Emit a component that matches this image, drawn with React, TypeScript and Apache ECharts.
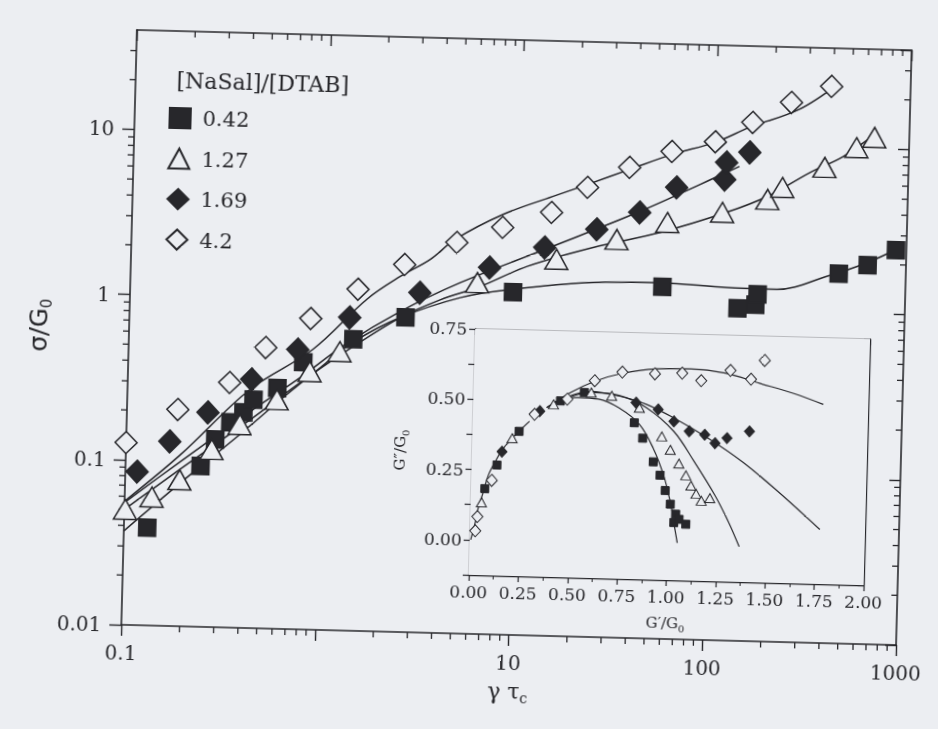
import React, { useEffect, useRef } from "react";
import * as echarts from "echarts";

const BG = "#eceef2";
const INK = "#27272b";
const SERIF = "'DejaVu Serif', 'Liberation Serif', serif";

const SERIES_NAMES = ["0.42", "1.27", "1.69", "4.2"];
const LEGEND_TITLE = "[NaSal]/[DTAB]";

const X_TICK_LABELS: Record<string, string> = { "-1": "0.1", "0": "", "1": "10", "2": "100", "3": "1000" };
const Y_TICK_LABELS: Record<string, string> = { "-2": "0.01", "-1": "0.1", "0": "1", "1": "10" };
const MINOR_STEPS = [2, 3, 4, 5, 6, 7, 8, 9];
const X_DECADES = [0.1, 1, 10, 100];
const Y_DECADES = [0.01, 0.1, 1];
const Y_TOP_MINOR = [20, 30];

// ---- main plot: measured points (gamma*tau_c, sigma/G0) ----
const PTS_042 = [[0.132, 0.039], [0.244, 0.094], [0.288, 0.137], [0.343, 0.175], [0.399, 0.202], [0.448, 0.242], [0.593, 0.287], [0.8, 0.415], [1.44, 0.582], [2.66, 0.805], [9.46, 1.19], [55.7, 1.35], [137, 1.03], [169, 1.09], [173, 1.26], [451, 1.73], [634, 1.97], [883, 2.45]];
const PTS_127 = [[0.101, 0.05], [0.138, 0.06], [0.191, 0.077], [0.277, 0.119], [0.384, 0.17], [0.592, 0.244], [0.867, 0.365], [1.23, 0.487], [6.17, 1.34], [15.7, 1.91], [31.9, 2.57], [58.0, 3.32], [111, 3.9], [189, 4.75], [225, 5.64], [369, 7.57], [536, 10.1], [661, 11.7]];
const PTS_169 = [[0.115, 0.085], [0.168, 0.131], [0.262, 0.199], [0.436, 0.32], [0.747, 0.494], [1.37, 0.787], [3.13, 1.14], [7.11, 1.66], [13.6, 2.24], [25.1, 2.94], [41.6, 3.78], [64.0, 5.43], [113, 6.17], [115, 7.83], [151, 9.08]];
const PTS_42 = [[0.1, 0.127], [0.183, 0.205], [0.336, 0.304], [0.51, 0.502], [0.863, 0.765], [1.5, 1.17], [2.59, 1.68], [4.78, 2.33], [8.2, 2.92], [14.6, 3.66], [22.2, 5.26], [36.4, 7.06], [59.9, 8.95], [100, 10.4], [155, 13.8], [244, 18.5], [391, 23.5]];

// ---- main plot: model curves ----
const FIT_042 = [[0.1, 0.037], [0.191, 0.073], [0.385, 0.148], [0.636, 0.251], [0.982, 0.387], [1.43, 0.556], [2.5, 0.801], [5.07, 1.08], [9.1, 1.23], [24.3, 1.4], [54.2, 1.43], [120, 1.37], [218, 1.36], [391, 1.66], [630, 2.04], [927, 2.55]];
const FIT_127 = [[0.1, 0.05], [0.191, 0.089], [0.435, 0.183], [0.778, 0.312], [1.32, 0.489], [2.5, 0.801], [3.99, 1.04], [6.4, 1.27], [11.1, 1.71], [24.2, 2.28], [53.3, 2.88], [117, 3.91], [188, 4.94], [311, 7.02], [458, 8.87], [661, 12.2]];
const FIT_169 = [[0.1, 0.055], [0.191, 0.099], [0.434, 0.205], [0.776, 0.335], [1.31, 0.54], [2.49, 0.871], [5.04, 1.33], [13.6, 2.18], [41.6, 3.83], [115, 6.81], [134, 7.45]];
const FIT_42 = [[0.1, 0.056], [0.191, 0.109], [0.428, 0.278], [0.893, 0.497], [1.67, 1.02], [2.47, 1.42], [3.51, 1.82], [4.69, 2.43], [8.22, 3.5], [14.7, 4.57], [22.2, 5.48], [36.5, 6.87], [60.1, 8.59], [99.3, 10.3], [150, 12.9], [269, 16.9], [420, 24.2]];

// ---- inset: Cole-Cole (G'/G0, G''/G0) ----
const IN_PTS_042 = [[0.07, 0.183], [0.128, 0.268], [0.236, 0.39], [0.441, 0.502], [0.561, 0.534], [0.818, 0.431], [0.862, 0.377], [0.919, 0.294], [0.955, 0.247], [0.983, 0.193], [1.011, 0.145], [1.031, 0.08], [1.039, 0.11], [1.057, 0.092], [1.092, 0.075]];
const IN_PTS_127 = [[0.055, 0.134], [0.202, 0.365], [0.407, 0.489], [0.596, 0.535], [0.7, 0.525], [0.842, 0.485], [0.959, 0.385], [1.004, 0.338], [1.049, 0.29], [1.086, 0.249], [1.113, 0.213], [1.14, 0.184], [1.167, 0.16], [1.21, 0.17]];
const IN_PTS_169 = [[0.152, 0.316], [0.338, 0.464], [0.824, 0.503], [0.937, 0.481], [1.018, 0.44], [1.097, 0.406], [1.176, 0.395], [1.229, 0.366], [1.289, 0.385], [1.402, 0.411]];
const IN_PTS_42 = [[0.027, 0.032], [0.036, 0.083], [0.104, 0.213], [0.312, 0.452], [0.476, 0.509], [0.612, 0.577], [0.751, 0.61], [0.916, 0.607], [1.054, 0.612], [1.151, 0.587], [1.298, 0.626], [1.403, 0.597], [1.47, 0.665]];

const IN_RISE = [[0.005, 0.0], [0.026, 0.062], [0.038, 0.11], [0.062, 0.17], [0.086, 0.231], [0.119, 0.28], [0.152, 0.322], [0.211, 0.372], [0.287, 0.427]];
const IN_FIT_042 = [[0.406, 0.495], [0.527, 0.516], [0.632, 0.512], [0.737, 0.483], [0.845, 0.425], [0.917, 0.342], [0.973, 0.247], [1.011, 0.151], [1.031, 0.08], [1.051, 0.008]];
const IN_FIT_127 = [[0.373, 0.477], [0.458, 0.508], [0.596, 0.535], [0.736, 0.527], [0.877, 0.486], [1.019, 0.404], [1.127, 0.298], [1.236, 0.18], [1.309, 0.085], [1.365, 0.0]];
const IN_FIT_169 = [[0.373, 0.477], [0.458, 0.512], [0.596, 0.539], [0.736, 0.525], [0.876, 0.498], [1.017, 0.452], [1.194, 0.383], [1.371, 0.302], [1.549, 0.203], [1.771, 0.069]];
const IN_FIT_42 = [[0.373, 0.477], [0.492, 0.533], [0.612, 0.575], [0.751, 0.606], [0.924, 0.625], [1.097, 0.628], [1.272, 0.616], [1.447, 0.583], [1.622, 0.55], [1.772, 0.514]];

const X_TICK_STEP_INSET = 0.25;
const Y_TICK_STEP_INSET = 0.125;

function logLabel(map: Record<string, string>) {
  return (v: number) => {
    const l = Math.log10(v);
    const e = Math.round(l);
    if (Math.abs(l - e) > 0.01) return "";
    return map[String(e)] ?? "";
  };
}

function buildOption() {
  const axisLine = { show: true, onZero: false, lineStyle: { color: INK, width: 1.6 } };
  const tickStyle = { color: INK, width: 1.4 };

  // minor tick marks for the log axes (drawn through the axes' own scales)
  const minorData: number[][] = [];
  X_DECADES.forEach((d) => MINOR_STEPS.forEach((k) => {
    minorData.push([k * d, 0.01, 0]);
    minorData.push([k * d, 40, 1]);
  }));
  const yMinor: number[] = [];
  Y_DECADES.forEach((d) => MINOR_STEPS.forEach((k) => yMinor.push(k * d)));
  Y_TOP_MINOR.forEach((v) => yMinor.push(v));
  yMinor.forEach((v) => {
    minorData.push([0.1, v, 2]);
    minorData.push([1000, v, 3]);
  });

  const line = (data: number[][], xi: number, yi: number, name: string, w = 1.5) => ({
    type: "line", name, data, xAxisIndex: xi, yAxisIndex: yi, smooth: 0.35, showSymbol: false,
    silent: true, z: 2, lineStyle: { color: INK, width: w }, clip: false,
  });
  const scat = (data: number[][], xi: number, yi: number, name: string, symbol: string, size: any, filled: boolean, bw = 1.5) => ({
    type: "scatter", name, data, xAxisIndex: xi, yAxisIndex: yi, symbol, symbolSize: size, clip: false, z: 4,
    itemStyle: { color: filled ? INK : BG, borderColor: INK, borderWidth: bw, opacity: 1 },
  });

  return {
    animation: false,
    backgroundColor: BG,
    textStyle: { fontFamily: SERIF },
    title: {
      text: LEGEND_TITLE, left: 165, top: 73,
      textStyle: { fontFamily: SERIF, fontSize: 22, fontWeight: "normal", color: INK },
    },
    legend: {
      show: true, orient: "vertical", left: 158, top: 111, itemWidth: 21, itemHeight: 20, itemGap: 18.5,
      selectedMode: false,
      textStyle: { fontFamily: SERIF, fontSize: 21, color: INK, padding: [0, 0, 0, 7] },
      data: [
        { name: SERIES_NAMES[0], icon: "rect" },
        { name: SERIES_NAMES[1], icon: "triangle" },
        { name: SERIES_NAMES[2], icon: "diamond" },
        { name: SERIES_NAMES[3], icon: "diamond" },
      ],
    },
    grid: [
      { left: 129, right: 34, top: 40, bottom: 94, show: false },
      { left: 475, right: 68, top: 330, bottom: 153, show: true, backgroundColor: BG, borderWidth: 0, z: 1 },
    ],
    xAxis: [
      {
        type: "log", logBase: 10, min: 0.1, max: 1000, gridIndex: 0, position: "bottom",
        axisLine, axisTick: { show: true, inside: false, length: 11, lineStyle: tickStyle },
        axisLabel: { formatter: logLabel(X_TICK_LABELS), fontFamily: SERIF, fontSize: 20, color: INK, margin: 18 },
        splitLine: { show: false },
        name: "{g|γ τ}{s|c}", nameLocation: "middle", nameGap: 42,
        nameTextStyle: {
          rich: {
            g: { fontFamily: SERIF, fontSize: 22, color: INK, lineHeight: 28 },
            s: { fontFamily: SERIF, fontSize: 14, color: INK, lineHeight: 28, verticalAlign: "bottom", padding: [10, 0, 0, 0] },
          },
        },
      },
      {
        type: "log", logBase: 10, min: 0.1, max: 1000, gridIndex: 0, position: "top",
        axisLine, axisTick: { show: true, inside: true, length: 11, lineStyle: tickStyle },
        axisLabel: { show: false }, splitLine: { show: false },
      },
      {
        type: "value", min: 0, max: 2, interval: X_TICK_STEP_INSET, gridIndex: 1, position: "bottom",
        axisLine: { ...axisLine, lineStyle: { color: INK, width: 1.3 } },
        axisTick: { show: true, inside: false, length: 6, lineStyle: { color: INK, width: 1.2 } },
        minorTick: { show: true, splitNumber: 2, length: 4, lineStyle: { color: INK, width: 1 } },
        axisLabel: { formatter: (v: number) => v.toFixed(2), fontFamily: SERIF, fontSize: 17, color: INK, margin: 8 },
        splitLine: { show: false },
        name: "{a|G′/G}{b|0}", nameLocation: "middle", nameGap: 33,
        nameTextStyle: {
          rich: {
            a: { fontFamily: SERIF, fontSize: 15, color: INK, lineHeight: 20 },
            b: { fontFamily: SERIF, fontSize: 10, color: INK, lineHeight: 20, verticalAlign: "bottom", padding: [7, 0, 0, 0] },
          },
        },
      },
      {
        type: "value", min: 0, max: 2, interval: X_TICK_STEP_INSET, gridIndex: 1, position: "top",
        axisLine: { ...axisLine, lineStyle: { color: INK, width: 1.3 } },
        axisTick: { show: true, inside: true, length: 6, lineStyle: { color: INK, width: 1.2 } },
        minorTick: { show: true, splitNumber: 2, length: 4, lineStyle: { color: INK, width: 1 } },
        axisLabel: { show: false }, splitLine: { show: false },
      },
    ],
    yAxis: [
      {
        type: "log", logBase: 10, min: 0.01, max: 40, gridIndex: 0, position: "left",
        axisLine, axisTick: { show: true, inside: false, length: 12, lineStyle: tickStyle },
        axisLabel: { formatter: logLabel(Y_TICK_LABELS), fontFamily: SERIF, fontSize: 20, color: INK, margin: 20, showMaxLabel: false },
        splitLine: { show: false },
        name: "{a|σ/G}{b|0}", nameLocation: "middle", nameGap: 74,
        nameTextStyle: {
          rich: {
            a: { fontFamily: "'DejaVu Sans', sans-serif", fontSize: 25, color: INK, lineHeight: 30 },
            b: { fontFamily: "'DejaVu Sans', sans-serif", fontSize: 15, color: INK, lineHeight: 30, verticalAlign: "bottom", padding: [10, 0, 0, 0] },
          },
        },
      },
      {
        type: "log", logBase: 10, min: 0.01, max: 40, gridIndex: 0, position: "right",
        axisLine, axisTick: { show: true, inside: true, length: 11, lineStyle: tickStyle },
        axisLabel: { show: false }, splitLine: { show: false },
      },
      {
        type: "value", min: -0.125, max: 0.75, interval: Y_TICK_STEP_INSET, gridIndex: 1, position: "left",
        axisLine: { ...axisLine, lineStyle: { color: INK, width: 1.3 } },
        axisTick: { show: true, inside: false, length: 6, lineStyle: { color: INK, width: 1.2 } },
        axisLabel: {
          formatter: (v: number) => {
            const q = v / 0.25;
            return v >= 0 && Math.abs(q - Math.round(q)) < 1e-6 ? v.toFixed(2) : "";
          },
          fontFamily: SERIF, fontSize: 17, color: INK, margin: 8,
        },
        splitLine: { show: false },
        name: "{a|G″/G}{b|0}", nameLocation: "middle", nameGap: 62,
        nameTextStyle: {
          rich: {
            a: { fontFamily: SERIF, fontSize: 15, color: INK, lineHeight: 20 },
            b: { fontFamily: SERIF, fontSize: 10, color: INK, lineHeight: 20, verticalAlign: "bottom", padding: [7, 0, 0, 0] },
          },
        },
      },
      {
        type: "value", min: -0.125, max: 0.75, interval: Y_TICK_STEP_INSET, gridIndex: 1, position: "right",
        axisLine: { ...axisLine, lineStyle: { color: INK, width: 1.3 } },
        axisTick: { show: true, inside: true, length: 6, lineStyle: { color: INK, width: 1.2 } },
        axisLabel: { show: false }, splitLine: { show: false },
      },
    ],
    series: [
      {
        type: "custom", name: "minor ticks", xAxisIndex: 0, yAxisIndex: 0, data: minorData, clip: false, silent: true, z: 3,
        encode: { x: 0, y: 1 },
        renderItem: (_p: any, api: any) => {
          const side = api.value(2);
          const p = api.coord([api.value(0), api.value(1)]);
          const L = 6;
          let shape;
          if (side === 0 || side === 1) shape = { x1: p[0], y1: p[1], x2: p[0], y2: p[1] + L };
          else shape = { x1: p[0] - L, y1: p[1], x2: p[0], y2: p[1] };
          return { type: "line", shape, style: { stroke: INK, lineWidth: 1.3 } };
        },
      },
      line(FIT_042, 0, 0, "fit 0.42"),
      line(FIT_127, 0, 0, "fit 1.27"),
      line(FIT_169, 0, 0, "fit 1.69"),
      line(FIT_42, 0, 0, "fit 4.2"),
      scat(PTS_042, 0, 0, SERIES_NAMES[0], "rect", 17, true),
      scat(PTS_127, 0, 0, SERIES_NAMES[1], "triangle", [23, 20], false),
      scat(PTS_169, 0, 0, SERIES_NAMES[2], "diamond", [22, 23], true),
      scat(PTS_42, 0, 0, SERIES_NAMES[3], "diamond", [22, 22], false),

      line(IN_RISE, 2, 2, "inset rise", 1.2),
      line(IN_FIT_042, 2, 2, "inset fit 0.42", 1.2),
      line(IN_FIT_127, 2, 2, "inset fit 1.27", 1.2),
      line(IN_FIT_169, 2, 2, "inset fit 1.69", 1.2),
      line(IN_FIT_42, 2, 2, "inset fit 4.2", 1.2),
      scat(IN_PTS_042, 2, 2, "inset 0.42", "rect", 8, true, 1),
      scat(IN_PTS_127, 2, 2, "inset 1.27", "triangle", [10, 9], false, 1),
      scat(IN_PTS_169, 2, 2, "inset 1.69", "diamond", [10, 11], true, 1),
      scat(IN_PTS_42, 2, 2, "inset 4.2", "diamond", [11, 12], false, 1),
    ],
  };
}

export default function App() {
  const ref = useRef<HTMLDivElement>(null);
  useEffect(() => {
    document.documentElement.style.background = BG;
    document.body.style.background = BG;
    document.body.style.margin = "0";
    document.body.style.overflow = "hidden";
    const chart = echarts.init(ref.current as HTMLDivElement, null, { renderer: "svg" });
    chart.setOption(buildOption() as any);
    return () => chart.dispose();
  }, []);
  return (
    <div
      ref={ref}
      style={{
        position: "fixed", left: 0, top: 0, width: 938, height: 729,
        transform: "rotate(1.5deg)", transformOrigin: "516px 337px",
      }}
    />
  );
}
